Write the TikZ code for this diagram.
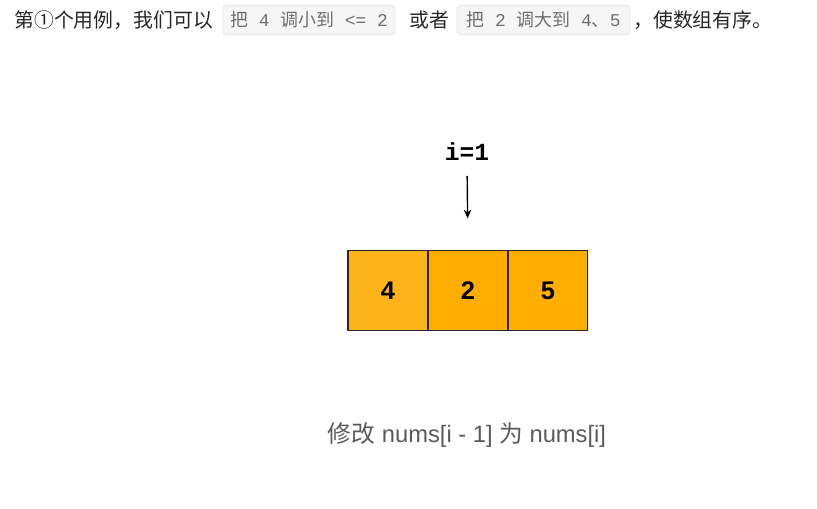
\documentclass[tikz,border=0pt]{standalone}
\usepackage{fontspec}
\setmainfont{Liberation Sans}
\setmonofont{Liberation Mono}
\newfontfamily\cjk{Noto Sans CJK SC}
\usepackage{tikz}
\usetikzlibrary{arrows.meta}
\usetikzlibrary{positioning}

\definecolor{cellA}{RGB}{253,180,27}
\definecolor{cellB}{RGB}{255,174,0}
\definecolor{codeBg}{RGB}{246,246,246}
\definecolor{codeLine}{RGB}{232,232,232}
\definecolor{codeText}{RGB}{110,110,110}
\definecolor{capText}{RGB}{90,90,90}

\tikzset{
  txt/.style={anchor=west, inner sep=0pt, font=\cjk\fontsize{11.3}{13}\selectfont, text=black!85},
  codebox/.style={draw=codeLine, fill=codeBg, rounded corners=1.5pt, minimum height=0.58cm,
    inner sep=0pt, text=codeText, font=\ttfamily\fontsize{10.2}{12}\selectfont},
  cell/.style={draw=black!85, semithick, minimum size=1.6cm, inner sep=0pt, outer sep=0pt,
    font=\bfseries\fontsize{14.5}{16}\selectfont},
}

\begin{document}
\begin{tikzpicture}[x=0.02cm, y=-0.02cm, line cap=round, line join=round, >={Stealth[length=5pt, width=4.2pt]}]
  \useasboundingbox (0,0) rectangle (817,508);
  %--- top line of text
    \node[txt] (lead) at (14,20) {第①个用例，我们可以};
    \node[codebox, minimum width=3.44cm] (code1) at (309,20) {{\cjk 把} 4 {\cjk 调小到} <= 2};
    \node[txt] (or) at (409,20) {或者};
    \node[codebox, minimum width=3.46cm] (code2) at (543.5,20) {{\cjk 把} 2 {\cjk 调大到} 4{\cjk 、}5};
    \node[txt] (tail) at (633,20) {，使数组有序。};
  %--- index
    \node[font=\ttfamily\bfseries\fontsize{14}{16}\selectfont, inner sep=0pt] (idx) at (467,152) {i=1};
  %--- cells
    \node[cell, fill=cellA] (c1) at (388,290.5) {4};
    \node[cell, fill=cellB, right=0pt of c1] (c2) {2};
    \node[cell, fill=cellB, right=0pt of c2] (c3) {5};
    \draw[->, line width=0.8pt, shorten <=0.3cm, shorten >=0.64cm] (idx.south) -- (c2.north);
  %--- caption
    \node[text=capText, font=\fontsize{13.5}{16}\selectfont] (cap) at (467,435)
      {{\cjk 修改} nums[i - 1] {\cjk 为} nums[i]};
\end{tikzpicture}
\end{document}
